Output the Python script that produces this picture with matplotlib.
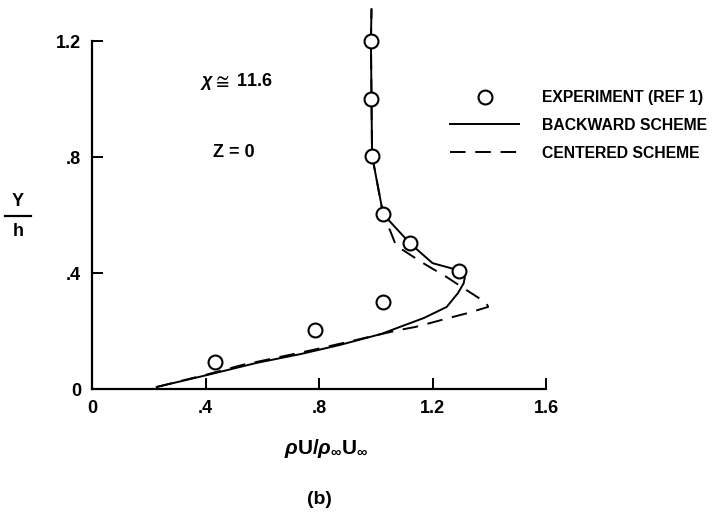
import matplotlib.pyplot as plt
from matplotlib.lines import Line2D

# experiment (ref 1)
exp_x = [0.983, 0.983, 0.987, 1.026, 1.12, 1.293, 1.026, 0.786, 0.433]
exp_y = [1.2, 1.0, 0.805, 0.603, 0.503, 0.407, 0.30, 0.203, 0.093]

# backward scheme
back_x = [0.228, 0.405, 0.58, 0.733, 0.874, 1.02, 1.085, 1.17, 1.25, 1.29,
          1.31, 1.314, 1.305, 1.29, 1.2, 1.12, 1.026, 0.987, 0.985, 0.983, 0.985]
back_y = [0.007, 0.048, 0.09, 0.12, 0.152, 0.19, 0.214, 0.245, 0.283, 0.331,
          0.365, 0.386, 0.398, 0.41, 0.434, 0.503, 0.603, 0.805, 1.0, 1.2, 1.31]

# centered scheme
cent_x = [0.228, 0.405, 0.53, 0.66, 0.78, 0.9, 1.0, 1.08, 1.14, 1.27, 1.325,
          1.396, 1.39, 1.32, 1.25, 1.167, 1.085, 1.068, 1.05, 1.043, 1.026,
          0.987, 0.985, 0.983, 0.985]
cent_y = [0.007, 0.05, 0.083, 0.11, 0.135, 0.162, 0.185, 0.203, 0.214, 0.248, 0.262,
          0.283, 0.297, 0.341, 0.386, 0.434, 0.486, 0.503, 0.548, 0.559, 0.603,
          0.805, 1.0, 1.2, 1.31]

xticks = [0, 0.4, 0.8, 1.2, 1.6]
xtick_labels = ["0", ".4", ".8", "1.2", "1.6"]
yticks = [0, 0.4, 0.8, 1.2]
ytick_labels = ["0", ".4", ".8", "1.2"]

plt.rcParams["font.family"] = ["Liberation Sans", "DejaVu Sans"]
plt.rcParams["font.weight"] = "bold"
plt.rcParams["mathtext.fontset"] = "custom"
plt.rcParams["mathtext.rm"] = "Liberation Sans:bold"
plt.rcParams["mathtext.it"] = "Liberation Sans:italic"

fig = plt.figure(figsize=(7.21, 5.20), dpi=100)
ax = fig.add_axes([92 / 721, 1 - 389 / 520, 454 / 721, 382.8 / 520])

ax.plot(back_x, back_y, color="black", lw=1.4, label="BACKWARD SCHEME")
ax.plot(cent_x, cent_y, color="black", lw=1.4, dashes=(8, 5),
        label="CENTERED SCHEME")
ax.plot(exp_x, exp_y, "o", ms=10, mfc="white", mec="black", mew=1.5,
        label="EXPERIMENT (REF 1)")

ax.set_xlim(0, 1.6)
ax.set_ylim(0, 1.32)
ax.set_xticks(xticks)
ax.set_xticklabels(xtick_labels)
ax.set_yticks(yticks)
ax.set_yticklabels(ytick_labels)
ax.tick_params(direction="in", length=8, width=1.4, labelsize=13, pad=8)

for s in ["top", "right"]:
    ax.spines[s].set_visible(False)
ax.spines["left"].set_bounds(0, 1.2)
ax.spines["bottom"].set_bounds(0, 1.6)
for s in ["left", "bottom"]:
    ax.spines[s].set_linewidth(1.6)

ax.text(0.38, 1.059, r"$\chi \cong$ 11.6", fontsize=13, va="center")
ax.text(0.426, 0.817, "Z = 0", fontsize=13, va="center")

handles, labels = ax.get_legend_handles_labels()
order = [2, 0, 1]
ax.legend([handles[i] for i in order], [labels[i] for i in order],
          loc="upper left", bbox_to_anchor=(450 / 721, 1 - 90 / 520),
          bbox_transform=fig.transFigure, frameon=False, fontsize=11.3,
          handlelength=4.4, handletextpad=1.45, labelspacing=0.82,
          borderpad=0, borderaxespad=0)

# Y/h stacked label
fig.text(18 / 721, 1 - 202 / 520, "Y", fontsize=13, ha="center", va="center")
fig.text(18 / 721, 1 - 232 / 520, "h", fontsize=13, ha="center", va="center")
fig.add_artist(Line2D([5 / 721, 31 / 721], [1 - 216 / 520, 1 - 216 / 520],
                      color="black", lw=1.6))

fig.text(326 / 721, 1 - 448 / 520, r"$\rho$U/$\rho_{\infty}$U$_{\infty}$",
         fontsize=15, ha="center", va="center")
fig.text(319 / 721, 1 - 500 / 520, "(b)", fontsize=14, ha="center",
         va="center")

fig.savefig("out.png", dpi=100)
